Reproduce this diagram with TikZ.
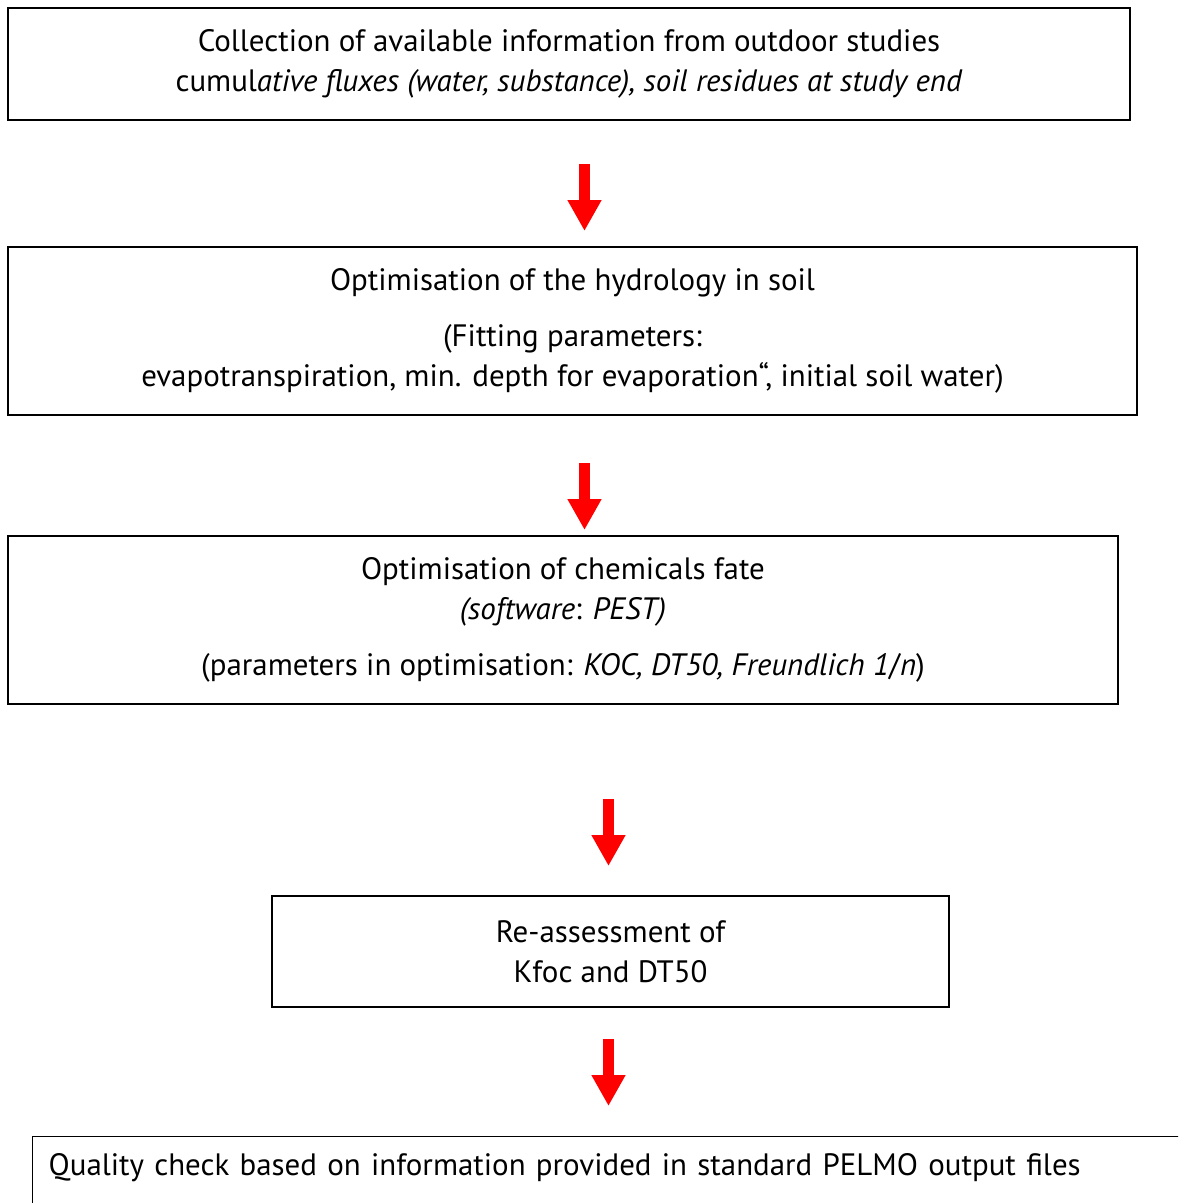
\documentclass[tikz,border=0pt]{standalone}
\usepackage{fontspec}
\setmainfont{PT Sans}
\usetikzlibrary{arrows.meta}
\begin{document}
\begin{tikzpicture}[x=0.02cm,y=-0.02cm,
    box/.style={rectangle,draw,thick,align=center,inner sep=0pt},
    redarrow/.style={red,line width=0.22cm,-{Triangle[width=0.64cm,length=0.62cm]}}]
  \useasboundingbox (0,0) rectangle (1178,1203);
  \clip (0,0) rectangle (1178,1203);
  \fontsize{17.6pt}{22.76pt}\selectfont
  % boxes
  \node[box,minimum width=22.44cm,minimum height=2.24cm] (collect) at (569,64)
      {Collection of available information from outdoor studies\\
       cumul\textit{ative fluxes (water, substance), soil residues at study end}};
  \node[box,minimum width=22.58cm,minimum height=3.36cm] (hydro) at (572.5,331)
      {Optimisation of the hydrology in soil\\[0.32cm]
       (Fitting parameters:\\
       evapotranspiration, min. depth for evaporation“, initial soil water)};
  \node[box,minimum width=22.2cm,minimum height=3.36cm] (chem) at (563,620)
      {Optimisation of chemicals fate\\
       \textit{(software}: \textit{PEST)}\\[0.32cm]
       (parameters in optimisation: \textit{KOC, DT50, Freundlich 1}/\textit{n})};
  \node[box,minimum width=13.54cm,minimum height=2.22cm] (reassess) at (610.5,951.5)
      {Re-assessment of\\ Kfoc and DT50};
  \node[box,anchor=north west,text width=25cm,align=left,inner xsep=0.32cm,
        inner ysep=0.34cm,text depth=2cm] (quality) at (32,1136)
      {Quality check based on information provided in standard PELMO output files};
  % arrows
  \coordinate (a1top) at (584.5,164);  \coordinate (a1tip) at (584.5,231);
  \coordinate (a2top) at (584.5,463);  \coordinate (a2tip) at (584.5,530);
  \coordinate (a3top) at (608.5,799);  \coordinate (a3tip) at (608.5,866);
  \coordinate (a4top) at (608.5,1039); \coordinate (a4tip) at (608.5,1106);
  \draw[redarrow] (a1top) -- (a1tip);
  \draw[redarrow] (a2top) -- (a2tip);
  \draw[redarrow] (a3top) -- (a3tip);
  \draw[redarrow] (a4top) -- (a4tip);
\end{tikzpicture}
\end{document}
